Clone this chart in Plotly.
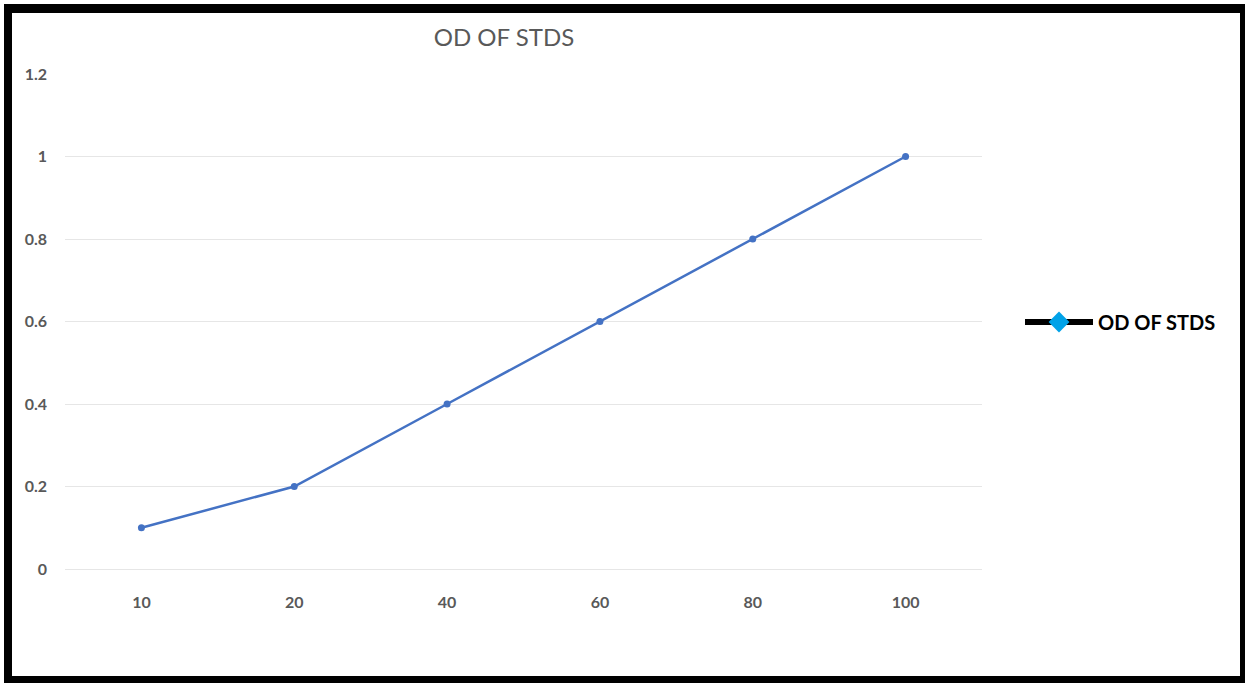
import plotly.graph_objects as go

# Standard concentrations (category labels) and measured optical densities
concentrations = ["10", "20", "40", "60", "80", "100"]
od_values = [0.1, 0.2, 0.4, 0.6, 0.8, 1.0]
y_ticks = [0, 0.2, 0.4, 0.6, 0.8, 1.0, 1.2]
y_tick_labels = ["0", "0.2", "0.4", "0.6", "0.8", "1", "1.2"]

W, H = 1245, 683
L, R, T, B = 65, 263, 74, 114
PW, PH = W - L - R, H - T - B


def px_x(p):
    return (p - L) / PW


def px_y(p):
    return (H - B - p) / PH


fig = go.Figure()

# Data series
fig.add_trace(go.Scatter(
    x=concentrations, y=od_values, mode="lines+markers",
    line=dict(color="#4472C4", width=2.5),
    marker=dict(color="#4472C4", size=7, symbol="circle"),
    name="OD OF STDS", showlegend=False,
))

# Legend entry with its own key style
fig.add_trace(go.Scatter(
    x=[None], y=[None], mode="lines+markers",
    line=dict(color="black", width=6),
    marker=dict(color="#00A2E8", size=16, symbol="diamond"),
    name="OD OF STDS", showlegend=True,
))

# Outer black frame
frame = [
    (4, 4, 12, 683),      # left
    (4, 4, 1245, 13),     # top
    (1240, 4, 1245, 683), # right
    (4, 676, 1245, 683),  # bottom
]
for x0, y0, x1, y1 in frame:
    fig.add_shape(type="rect", xref="paper", yref="paper",
                  x0=px_x(x0), x1=px_x(x1), y0=px_y(y0), y1=px_y(y1),
                  fillcolor="black", line=dict(width=0), layer="above")

fig.update_layout(
    width=W, height=H,
    margin=dict(l=L, r=R, t=T, b=B),
    paper_bgcolor="white", plot_bgcolor="white",
    font=dict(family="Lato, Open Sans, sans-serif"),
    title=dict(text="OD OF STDS", xref="container", x=504 / W, xanchor="center",
               yref="container", y=1 - 38 / H, yanchor="middle",
               font=dict(size=24, color="#595959", family="Lato, Open Sans, sans-serif")),
    xaxis=dict(type="category", range=[-0.5, 5.5],
               showgrid=False, showline=False, zeroline=False,
               ticks="", ticklabelstandoff=22,
               tickfont=dict(size=16, color="#595959", weight="bold")),
    yaxis=dict(range=[0, 1.2], tickvals=y_ticks, ticktext=y_tick_labels,
               showgrid=True, gridcolor="#e6e6e6", gridwidth=1,
               zeroline=True, zerolinecolor="#e6e6e6", zerolinewidth=1,
               showline=False, ticks="", ticklabelstandoff=17,
               tickfont=dict(size=16, color="#595959", weight="bold")),
    legend=dict(x=px_x(1020), y=px_y(322), xanchor="left", yanchor="middle",
                itemwidth=68, bgcolor="rgba(0,0,0,0)",
                font=dict(size=20, color="black", weight="bold")),
)

fig.write_html("out.html")
